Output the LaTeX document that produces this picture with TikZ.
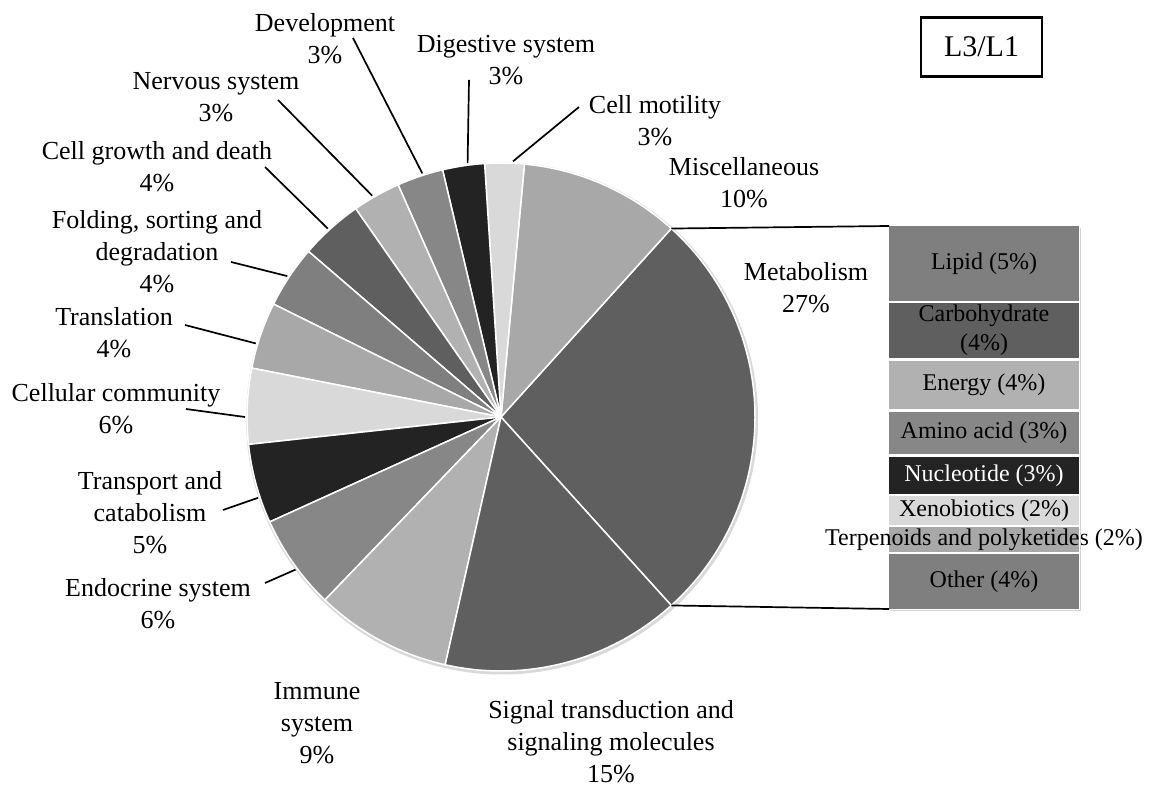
\documentclass[tikz,border=0pt]{standalone}
\usepackage{fontspec}
\setmainfont{Liberation Serif}
\usetikzlibrary{positioning, calc}
\definecolor{gblack}{HTML}{232323}
\definecolor{gdark}{HTML}{5F5F5F}
\definecolor{gmid}{HTML}{878787}
\definecolor{gfold}{HTML}{7F7F7F}
\definecolor{glight}{HTML}{A8A8A8}
\definecolor{gpale}{HTML}{B1B1B1}
\definecolor{gwhite}{HTML}{D9D9D9}

\begin{document}
\begin{tikzpicture}[
  x=1pt, y=1pt,
  lbl/.style={align=center, inner sep=0pt, font=\fontsize{26}{32}\selectfont},
  leader/.style={line width=1.7pt, black},
  slice/.style={draw=white, line width=1.5pt, line join=round},
  seg/.style={
    minimum width=190pt, inner sep=0pt, outer sep=0pt,
    align=center, font=\fontsize{24}{29}\selectfont
  }
]
  \useasboundingbox (0,0) rectangle (1174,787);

  % Torta
  \coordinate (pc) at (501,370);
  \fill[gray!30] ($(pc)+(1,-1.5)$) circle[radius=256];
  \foreach \a/\b/\col in {-47.9/47.9/gdark, 47.9/84.7/glight, 84.7/93.7/gwhite,
      93.7/103.3/gblack, 103.3/113.9/gmid, 113.9/124.9/gpale, 124.9/139.3/gdark,
      139.3/153.6/gfold, 153.6/168.9/glight, 168.9/186.2/gwhite, 186.2/204.4/gblack,
      204.4/226.1/gmid, 226.1/257.3/gpale, 257.3/312.1/gdark}
    \filldraw[slice, fill=\col] (pc) -- ++(\a:254) arc[start angle=\a, end angle=\b, radius=254] -- cycle;

  % Etichette
  \node[lbl] (dev) at (325,748) {Development\\3\%};
  \node[lbl] (dig) at (506,727) {Digestive system\\3\%};
  \node[lbl] (nerv) at (216,689.5) {Nervous system\\3\%};
  \node[lbl] (motil) at (655,666.5) {Cell motility\\3\%};
  \node[lbl] (growth) at (157,620.5) {Cell growth and death\\4\%};
  \node[lbl] (misc) at (744,604) {Miscellaneous\\10\%};
  \node[lbl] (fold) at (157,535.5) {Folding, sorting and\\degradation\\4\%};
  \node[lbl] (metab) at (806,499) {Metabolism\\27\%};
  \node[lbl] (transl) at (114,454.5) {Translation\\4\%};
  \node[lbl] (cellcom) at (116,378) {Cellular community\\6\%};
  \node[lbl] (transp) at (150,274) {Transport and\\catabolism\\5\%};
  \node[lbl] (endo) at (158,183) {Endocrine system\\6\%};
  \node[lbl] (immune) at (317,63.5) {Immune\\system\\9\%};
  \node[lbl] (signal) at (611,45) {Signal transduction and\\signaling molecules\\15\%};

  % Linee guida
  \foreach \n/\x/\y/\a in {motil/579/680/87.3, dig/469/707/97.5, dev/353/749/107.9,
      nerv/278/687/120.2, growth/265/620/132.6, fold/231/525/146.6,
      transl/185/462/163.3, cellcom/186/378/180, transp/223/277/198.4, endo/265/204/216.6}
  {
    \coordinate (\n-a) at (\x,\y);
    \path (pc) ++(\a:256) coordinate (\n-b);
    \draw[leader] (\n-a) -- (\n-b);
  }

  % Barra del metabolismo
  \node[seg, fill=gfold, minimum height=75pt] (lipid) at (984,523.5) {Lipid (5\%)};
  \node[seg, fill=gdark, minimum height=55pt, below=2pt of lipid] (carb) {Carbohydrate\\(4\%)};
  \node[seg, fill=gpale, minimum height=48pt, below=3pt of carb] (energy) {Energy (4\%)};
  \node[seg, fill=gmid, minimum height=42pt, below=3pt of energy] (amino) {Amino acid (3\%)};
  \node[seg, fill=gblack, text=white, minimum height=37pt, below=3pt of amino] (nucl) {Nucleotide (3\%)};
  \node[seg, fill=gwhite, minimum height=29pt, below=2pt of nucl] (xeno) {Xenobiotics (2\%)};
  \node[seg, fill=glight, minimum height=25pt, below=2pt of xeno] (terp) {\makebox[0pt]{Terpenoids and polyketides (2\%)}};
  \node[seg, fill=gfold, minimum height=55pt, below=2pt of terp] (other) {Other (4\%)};
  \draw[gray!35, line width=1.5pt] ($(lipid.north east)+(1.5,-2)$) -- ($(other.south east)+(1.5,-1.5)$) -- ($(other.south west)+(2,-1.5)$);

  % Collegamenti torta-barra
  \coordinate (metab-up) at ($(pc)+(47.9:254)$);
  \coordinate (metab-down) at ($(pc)+(-47.9:254)$);
  \draw[leader] (metab-up) -- (lipid.north west);
  \draw[leader] (metab-down) -- (other.south west);

  % Riquadro
  \node[draw, line width=2.3pt, minimum width=121pt, minimum height=59pt,
    font=\fontsize{30}{36}\selectfont] (ratio) at (981.5,740) {L3/L1};

\end{tikzpicture}
\end{document}
